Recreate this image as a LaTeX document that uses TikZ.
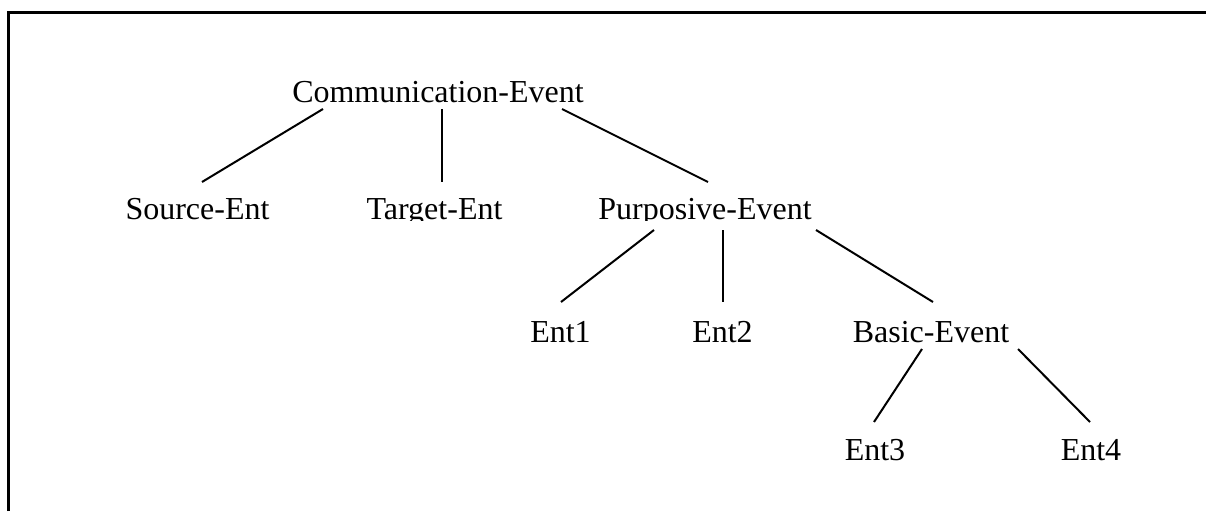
\documentclass[tikz,border=0pt]{standalone}
\usepackage{fontspec}
\setmainfont{Liberation Serif}
\usetikzlibrary{calc}
\begin{document}
\begin{tikzpicture}[x=1pt,y=-1pt,
  lbl/.style={inner sep=0pt,anchor=base,font=\fontsize{32}{38}\selectfont},
  edge/.style={line width=2pt}]
\useasboundingbox (0,0) rectangle (1206,511);
\draw[line width=2.5pt] (8.5,511) -- (8.5,12.5) -- (1206,12.5);
\node[lbl] (ce) at (438,102) {Communication-Event};
\begin{scope}
\clip (0,0) rectangle (1206,220.5);
\node[lbl] (src) at (197.5,219) {Source-Ent};
\node[lbl] (tgt) at (434.5,219) {Target-Ent};
\node[lbl] (purp) at (705,219) {Purposive-Event};
\end{scope}
\node[lbl] (e1) at (560.5,342) {Ent1};
\node[lbl] (e2) at (722.5,342) {Ent2};
\node[lbl] (basic) at (931,342) {Basic-Event};
\node[lbl] (e3) at (875,460) {Ent3};
\node[lbl] (e4) at (1091,460) {Ent4};
\draw[edge] ($(ce.base)+(-115,7)$) -- ($(src.base)+(4.5,-37)$);
\draw[edge] ($(ce.base)+(4,7)$) -- ($(tgt.base)+(7.5,-37)$);
\draw[edge] ($(ce.base)+(124,7)$) -- ($(purp.base)+(3,-37)$);
\draw[edge] ($(purp.base)+(-51,11)$) -- ($(e1.base)+(0.5,-40)$);
\draw[edge] ($(purp.base)+(18,11)$) -- ($(e2.base)+(0.5,-40)$);
\draw[edge] ($(purp.base)+(111,11)$) -- ($(basic.base)+(2,-40)$);
\draw[edge] ($(basic.base)+(-9,7)$) -- ($(e3.base)+(-1,-38)$);
\draw[edge] ($(basic.base)+(87,7)$) -- ($(e4.base)+(-1,-38)$);
\end{tikzpicture}
\end{document}
